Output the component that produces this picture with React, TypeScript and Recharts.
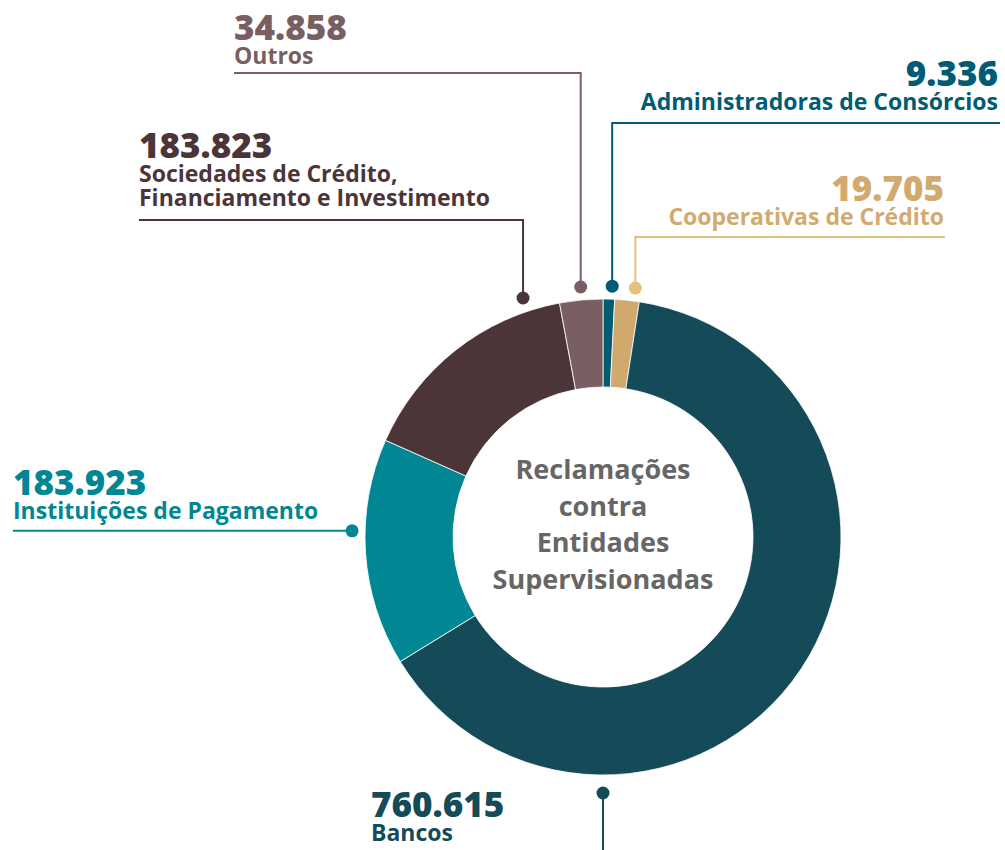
import { PieChart, Pie, Cell } from "recharts";

// slices in clockwise order starting at 12 o'clock
const categories = [
  "Administradoras de Consórcios",
  "Cooperativas de Crédito",
  "Bancos",
  "Instituições de Pagamento",
  "Sociedades de Crédito, Financiamento e Investimento",
  "Outros",
];
const nameLines = [
  ["Administradoras de Consórcios"],
  ["Cooperativas de Crédito"],
  ["Bancos"],
  ["Instituições de Pagamento"],
  ["Sociedades de Crédito,", "Financiamento e Investimento"],
  ["Outros"],
];
const values = [9336, 19705, 760615, 183923, 183823, 34858];
const centerTitle = ["Reclamações", "contra", "Entidades", "Supervisionadas"];

const sliceColors = ["#005b74", "#d0a96f", "#154b58", "#008793", "#4b3538", "#7a5f62"];
const textColors = ["#005b74", "#d2aa6f", "#154b58", "#008793", "#4b3538", "#7a5f62"];
const accentColors = ["#005b74", "#e8c07e", "#154b58", "#008793", "#4b3538", "#7a5f62"];

// where each callout leaves the ring and where its text sits
const labelLayout = [
  { angle: 87.9, gap: 13, elbowY: 123, endX: 1000, textX: 998, textY: 86, anchor: "end" },
  { angle: 82.6, gap: 13, elbowY: 237, endX: 945, textX: 944, textY: 201, anchor: "end" },
  { angle: 270, gap: 18, elbowY: 850, endX: null, textX: 371, textY: 817, anchor: "start" },
  { angle: 178.6, gap: 13, elbowY: null, endX: 13, textX: 13, textY: 495, anchor: "start" },
  { angle: 108.5, gap: 14, elbowY: 220, endX: 139, textX: 139, textY: 158, anchor: "start" },
  { angle: 95.1, gap: 13, elbowY: 73, endX: 234, textX: 234, textY: 40, anchor: "start" },
];

const FONT = "'Open Sans', 'Noto Sans', sans-serif";

const fmt = (v: number) => String(v).replace(/\B(?=(\d{3})+(?!\d))/g, ".");

const data = categories.map((name, i) => ({ name, value: values[i] }));

function CenterTitle({ cx, cy }: { cx: number; cy: number }) {
  return (
    <text x={cx} y={cy - 58} textAnchor="middle" fill="#666666" fontFamily={FONT} fontWeight={700} fontSize={27}>
      {centerTitle.map((s, i) => (
        <tspan key={i} x={cx} dy={i === 0 ? 0 : 36.5}>
          {s}
        </tspan>
      ))}
    </text>
  );
}

function Callout(props: any) {
  const { cx, cy, outerRadius, index } = props;
  const l = labelLayout[index];
  const rad = (l.angle * Math.PI) / 180;
  const r = outerRadius + l.gap;
  const x = cx + r * Math.cos(rad);
  const y = cy - r * Math.sin(rad);
  const ey = l.elbowY ?? y;
  let d = `M${x},${y} L${x},${ey}`;
  if (l.endX != null) d += ` L${l.endX},${ey}`;
  const color = accentColors[index];
  const tc = textColors[index];
  return (
    <g>
      {index === 0 && <CenterTitle cx={cx} cy={cy} />}
      <path d={d} stroke={color} strokeWidth={2} fill="none" />
      <circle cx={x} cy={y} r={6.5} fill={color} />
      <text x={l.textX} y={l.textY} textAnchor={l.anchor} fill={tc} fontFamily={FONT} fontWeight={800} fontSize={35}>
        {fmt(values[index])}
      </text>
      {nameLines[index].map((s, k) => (
        <text key={k} x={l.textX} y={l.textY + 24 + k * 24} textAnchor={l.anchor} fill={tc} fontFamily={FONT} fontWeight={700} fontSize={23}>
          {s}
        </text>
      ))}
    </g>
  );
}

export default function App() {
  return (
    <div>
      <style>{`body{margin:0;background:#fff}`}</style>
      <PieChart width={1005} height={850} margin={{ top: 0, right: 0, bottom: 0, left: 0 }}>
        <Pie
          data={data}
          dataKey="value"
          nameKey="name"
          cx={603}
          cy={537}
          innerRadius={150}
          outerRadius={238}
          startAngle={90}
          endAngle={-270}
          stroke="#ffffff"
          strokeWidth={0.8}
          label={Callout}
          labelLine={false}
          isAnimationActive={false}
        >
          {data.map((d, i) => (
            <Cell key={d.name} fill={sliceColors[i]} />
          ))}
        </Pie>
      </PieChart>
    </div>
  );
}
